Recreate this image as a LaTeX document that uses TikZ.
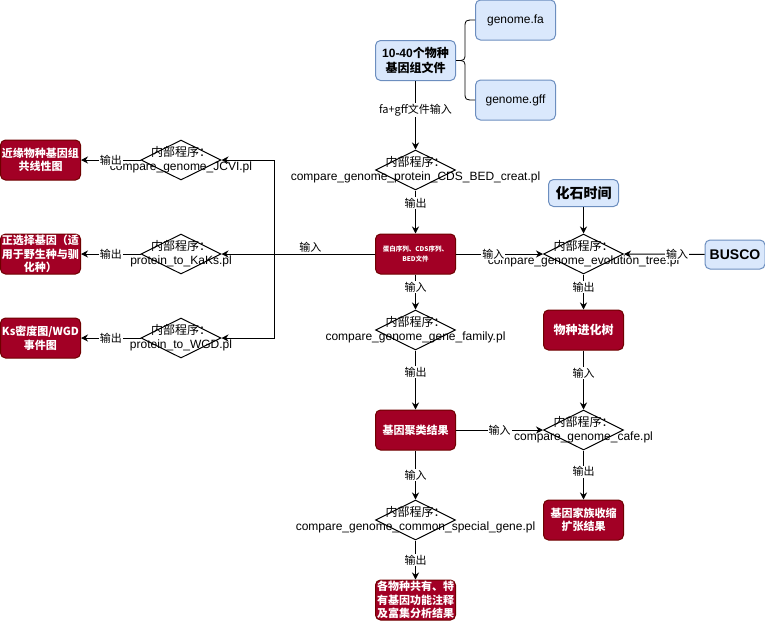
\documentclass[tikz,border=0pt]{standalone}
\usepackage{fontspec}
\setmainfont{Liberation Sans}
\newfontfamily\cjk{Noto Sans CJK SC}
\usetikzlibrary{arrows.meta,calc,shapes.geometric}

\definecolor{redfill}{HTML}{A20025}
\definecolor{rededge}{HTML}{6F0000}
\definecolor{bluefill}{HTML}{DAE8FC}
\definecolor{blueedge}{HTML}{6C8EBF}

\tikzset{
  blue box/.style={draw=blueedge, fill=bluefill, rounded corners=5pt, minimum width=80pt, minimum height=40pt, align=center, inner sep=1pt, font=\fontsize{12}{15}\selectfont},
  red box/.style={draw=rededge, fill=redfill, text=white, rounded corners=5pt, minimum width=80pt, minimum height=40pt, text width=80pt, align=center, inner sep=0pt, font=\cjk\bfseries\fontsize{11}{13.5}\selectfont},
  prog/.style={draw, diamond, aspect=2, minimum width=80pt, minimum height=40pt, inner sep=0pt},
  progtext/.style={align=center, font=\fontsize{12}{14}\selectfont},
  lab/.style={fill=white, inner sep=1pt, font=\cjk\fontsize{11}{12}\selectfont},
  >={Stealth[length=7pt,width=7pt]}
}

\begin{document}
\begin{tikzpicture}[x=1pt,y=-1pt,line width=1pt]
\useasboundingbox (0,0) rectangle (765,622);
% input files
\node[blue box] (ten) at (415.5,60.5) {\textbf{10-40{\cjk 个物种}}\\\textbf{\cjk 基因组文件}};
\node[blue box] (fa) at (515.5,20) {genome.fa};
\node[blue box] (gff) at (515.5,100) {genome.gff};
\coordinate (brace) at (465,60.5);
\draw[line width=0.8pt] (ten.east) .. controls (brace) .. ($(brace)+(0,-8)$) -- ($(brace |- fa.west)+(0,8)$) .. controls (brace |- fa.west) .. (fa.west);
\draw[line width=0.8pt] (ten.east) .. controls (brace) .. ($(brace)+(0,8)$) -- ($(brace |- gff.west)+(0,-8)$) .. controls (brace |- gff.west) .. (gff.west);

% middle column
\node[prog] (p1) at (415.5,170) {};
\node[progtext] at (p1) {{\cjk 内部程序：}\\compare\_genome\_protein\_CDS\_BED\_creat.pl};
\node[red box, font=\cjk\bfseries\fontsize{6.5}{9.5}\selectfont] (seq) at (415.5,254) {蛋白序列、CDS序列、\\BED文件};
\node[prog] (fam) at (415.5,330) {};
\node[progtext] at (fam) {{\cjk 内部程序：}\\compare\_genome\_gene\_family.pl};
\node[red box] (clu) at (415.5,430) {基因聚类结果};
\node[prog] (com) at (415.5,520) {};
\node[progtext] at (com) {{\cjk 内部程序：}\\compare\_genome\_common\_special\_gene.pl};
\node[red box] (res) at (415.5,600) {各物种共有、特\\有基因功能注释\\及富集分析结果};

\draw[->] (ten) -- node[lab, pos=0.43] {fa+gff文件输入} (p1);
\draw[->] (p1) -- node[lab, pos=0.3] {输出} (seq);
\draw[->] (seq) -- node[lab, pos=0.36] {输入} (fam);
\draw[->] (fam) -- node[lab, pos=0.37] {输出} (clu);
\draw[->] (clu) -- node[lab] {输入} (com);
\draw[->] (com) -- node[lab] {输出} (res);

% right column
\node[blue box, minimum width=70pt, minimum height=27pt, font=\cjk\bfseries\fontsize{14}{16}\selectfont] (fossil) at (583.5,193) {化石时间};
\node[blue box, minimum width=60pt, minimum height=29pt, font=\bfseries\fontsize{14}{16}\selectfont] (busco) at (735,254.5) {BUSCO};
\node[prog] (tree) at (583.5,254) {};
\node[progtext] at (tree) {{\cjk 内部程序：}\\compare\_genome\_evolution\_tree.pl};
\node[red box, font=\cjk\bfseries\fontsize{12}{14}\selectfont] (sp) at (583.5,330) {物种进化树};
\node[prog] (cafe) at (583.5,430) {};
\node[progtext] at (cafe) {{\cjk 内部程序：}\\compare\_genome\_cafe.pl};
\node[red box] (fex) at (583.5,520) {基因家族收缩\\扩张结果};

\draw[->] (fossil) -- (tree);
\draw[->] (seq) -- node[lab, pos=0.43] {输入} (tree.west);
\draw[->] (busco) -- node[lab, pos=0.34] {输入} (tree.east);
\draw[->] (tree) -- node[lab, pos=0.36] {输出} (sp);
\draw[->] (sp) -- node[lab, pos=0.38] {输入} (cafe);
\draw[->] (clu) -- node[lab] {输入} (cafe.west);
\draw[->] (cafe) -- node[lab, pos=0.43] {输出} (fex);

% left branches
\coordinate (split) at (274,254);
\draw (seq.west) -- node[lab, fill=none, above, pos=0.64] {输入} (split);
\foreach \n/\y/\prog/\res in {jcvi/160/{compare\_genome\_JCVI.pl}/{近缘物种基因组\\共线性图},
    kaks/254/{protein\_to\_KaKs.pl}/{正选择基因（适\\用于野生种与驯\\化种）},
    wgd/338/{protein\_to\_WGD.pl}/{Ks密度图/WGD\\事件图}} {
  \node[prog] (\n) at (181,\y) {};
  \node[progtext] at (\n) {{\cjk 内部程序：}\\\prog};
  \node[red box] (\n res) at (40.5,\y) {\res};
  \draw[->] (split) |- (\n.east);
  \draw[->] (\n.west) -- node[lab] {输出} (\n res);
}
\end{tikzpicture}
\end{document}
